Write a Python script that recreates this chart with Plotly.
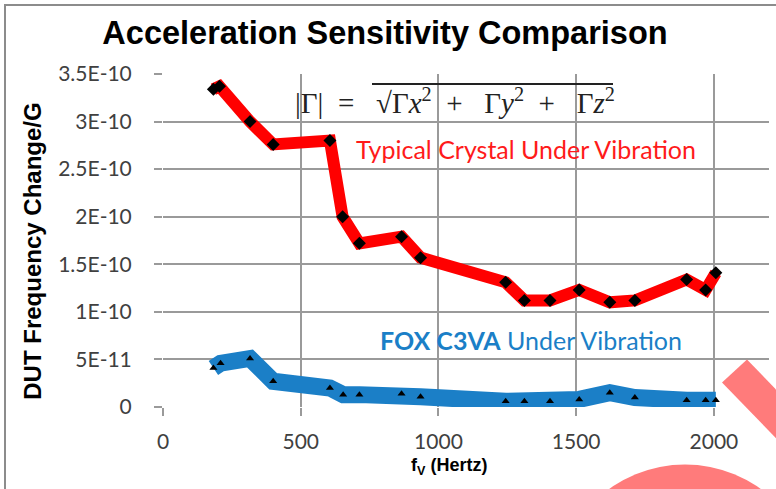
import plotly.graph_objects as go

# ---------------- data ----------------
crystal_freq = [183, 205, 316, 400, 606, 652, 713, 866, 935, 1244, 1312, 1405, 1511, 1622, 1713, 1901, 1970, 2007]
crystal_sens = [3.34e-10, 3.37e-10, 3.00e-10, 2.76e-10, 2.80e-10, 2.00e-10, 1.72e-10, 1.79e-10, 1.57e-10,
                1.31e-10, 1.12e-10, 1.12e-10, 1.23e-10, 1.10e-10, 1.12e-10, 1.34e-10, 1.23e-10, 1.41e-10]

fox_freq = [183, 209, 316, 400, 606, 654, 713, 866, 935, 1244, 1312, 1405, 1511, 1622, 1713, 1901, 1970, 2007]
fox_sens = [0.41e-10, 0.46e-10, 0.51e-10, 0.27e-10, 0.20e-10, 0.13e-10, 0.13e-10, 0.14e-10, 0.107e-10,
            0.06e-10, 0.06e-10, 0.06e-10, 0.08e-10, 0.15e-10, 0.10e-10, 0.07e-10, 0.07e-10, 0.07e-10]

y_tickvals = [0, 0.5e-10, 1.0e-10, 1.5e-10, 2.0e-10, 2.5e-10, 3.0e-10, 3.5e-10]
y_ticktext = ["0", "5E-11", "1E-10", "1.5E-10", "2E-10", "2.5E-10", "3E-10", "3.5E-10"]
x_tickvals = [0, 500, 1000, 1500, 2000]
x_range = [0, 2200]
y_range = [0, 3.5e-10]

# ---------------- figure ----------------
W, H = 776, 489
L, R, T, B = 163, 769, 74, 407.5


def px(x):
    return (x - L) / (R - L)


def py(y):
    return (B - y) / (B - T)


grid = "#9a9a9a"

fig = go.Figure()
fig.add_trace(go.Scatter(x=crystal_freq, y=crystal_sens, mode="lines", line=dict(color="#ff0000", width=12),
                         hoverinfo="skip", showlegend=False))
fig.add_trace(go.Scatter(x=crystal_freq, y=crystal_sens, mode="markers",
                         marker=dict(symbol="diamond", size=10, color="black"), showlegend=False))
fig.add_trace(go.Scatter(x=fox_freq, y=fox_sens, mode="lines", line=dict(color="#1b7fc7", width=17),
                         hoverinfo="skip", showlegend=False))
fig.add_trace(go.Scatter(x=fox_freq, y=fox_sens, mode="markers",
                         marker=dict(symbol="triangle-up", size=7, color="black"), showlegend=False))

tickfont = dict(family="Lato, Open Sans, sans-serif", size=21, color="#404040")

fig.update_layout(
    template="none",
    width=W, height=H, autosize=False,
    margin=dict(l=L, r=W - R, t=T, b=H - B, pad=0),
    paper_bgcolor="white", plot_bgcolor="rgba(0,0,0,0)",
    title=dict(text="<b>Acceleration Sensitivity Comparison</b>", x=385 / W, xref="container", xanchor="center",
               y=1 - 33 / H, yref="container", yanchor="middle",
               font=dict(family="Liberation Sans, Arial, sans-serif", size=32.5, color="black")),
    xaxis=dict(range=x_range, tickmode="array", tickvals=x_tickvals, showgrid=True, gridcolor=grid,
               gridwidth=1.5, layer="below traces",
               zeroline=False, ticks="outside", ticklen=8, tickcolor=grid, tickwidth=1.5,
               tickfont=tickfont, ticklabelstandoff=8, showline=False, automargin=False),
    yaxis=dict(range=y_range, tickmode="array", tickvals=y_tickvals, ticktext=y_ticktext, showgrid=True,
               gridcolor=grid, gridwidth=1.5, layer="below traces",
               zeroline=False, ticks="outside", ticklen=8, tickwidth=1.5,
               tickcolor=grid, tickfont=tickfont, ticklabelstandoff=18, showline=False, automargin=False),
)

# axis titles
fig.add_annotation(xref="paper", yref="paper", x=px(449), y=py(467), xanchor="center", yanchor="middle",
                   text="<b>f<sub>V</sub> (Hertz)</b>", showarrow=False,
                   font=dict(family="Liberation Sans, Arial, sans-serif", size=18, color="black"))
fig.add_annotation(xref="paper", yref="paper", x=px(33), y=py(252), xanchor="center", yanchor="middle",
                   text="<b>DUT Frequency Change/G</b>", showarrow=False, textangle=-90,
                   font=dict(family="Liberation Sans, Arial, sans-serif", size=24, color="black"))

# text annotations
fig.add_annotation(xref="paper", yref="paper", x=px(455), y=py(101), xanchor="center", yanchor="middle",
                   text="|Γ|  =   √Γ<i>x</i><sup>2</sup>  +   Γ<i>y</i><sup>2</sup>  +   Γ<i>z</i><sup>2</sup>",
                   showarrow=False, font=dict(family="Liberation Serif, DejaVu Serif, serif", size=29, color="#222222"))
fig.add_annotation(xref="paper", yref="paper", x=px(526), y=py(149), xanchor="center", yanchor="middle",
                   text="Typical Crystal Under Vibration", showarrow=False,
                   font=dict(family="Lato, Open Sans, sans-serif", size=25, color="#ff1a1a"))
fig.add_annotation(xref="paper", yref="paper", x=px(531), y=py(340), xanchor="center", yanchor="middle",
                   text="<b>FOX C3VA</b> Under Vibration", showarrow=False,
                   font=dict(family="Lato, Open Sans, sans-serif", size=25, color="#1b7fc7"))

# sqrt bar, decorative watermark pieces and frame
fig.add_shape(type="line", xref="paper", yref="paper", x0=px(372), x1=px(613), y0=py(84), y1=py(84),
              line=dict(color="#222222", width=2), layer="above")
band = f"M {px(722)} {py(383)} L {px(747)} {py(360)} L {px(840)} {py(456)} L {px(815)} {py(479)} Z"
fig.add_shape(type="path", xref="paper", yref="paper", path=band, fillcolor="#ff7b7b", line=dict(width=0),
              layer="above")
fig.add_shape(type="circle", xref="paper", yref="paper", x0=px(685 - 129), x1=px(685 + 129),
              y0=py(594 + 129), y1=py(594 - 129), fillcolor="#ff7b7b", line=dict(width=0), layer="above")
fig.add_shape(type="line", xref="paper", yref="paper", x0=px(4), x1=px(780), y0=py(5), y1=py(5),
              line=dict(color="#8c8c8c", width=2), layer="above")
fig.add_shape(type="line", xref="paper", yref="paper", x0=px(5), x1=px(5), y0=py(5), y1=py(495),
              line=dict(color="#8c8c8c", width=2), layer="above")

fig.write_html("out.html", config={"displayModeBar": False},
               post_script="document.body.style.margin='0';")
